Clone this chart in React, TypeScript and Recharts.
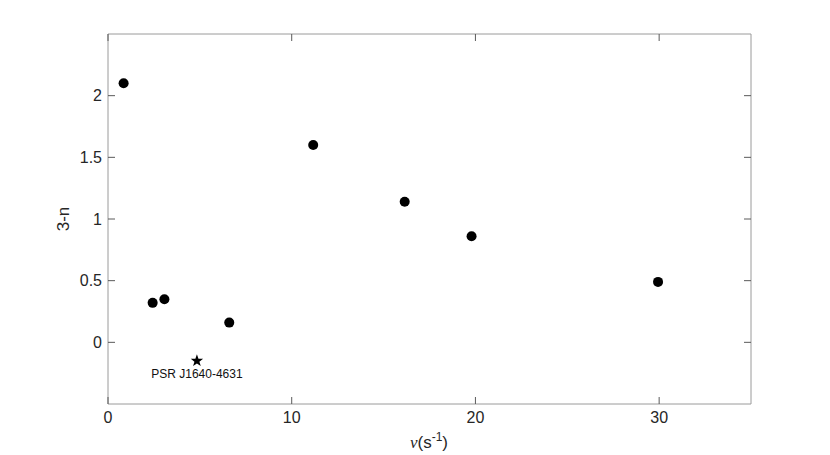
import React from "react";
import {
  ScatterChart,
  Scatter,
  XAxis,
  YAxis,
  ZAxis,
} from "recharts";

// frequency nu (s^-1) and 3-n for the pulsars
const nu = [0.85, 2.43, 3.07, 6.6, 11.17, 16.15, 19.79, 29.94];
const threeMinusN = [2.1, 0.32, 0.35, 0.16, 1.6, 1.14, 0.86, 0.49];

// highlighted pulsar
const starNu = [4.84];
const starValue = [-0.15];
const starName = "PSR J1640-4631";

const xTicks = [0, 10, 20, 30];
const yTicks = [0, 0.5, 1, 1.5, 2];

const points = nu.map((x, i) => ({ x, y: threeMinusN[i] }));
const starPoints = starNu.map((x, i) => ({ x, y: starValue[i], name: starName }));

const FONT = "'Liberation Sans', Arial, Helvetica, sans-serif";
const FRAME = "#9a9a9a";
const TICK = "#5a5a5a";
const TEXT = "#262626";
const TICK_LEN = 7;

const BottomTick = (props: any) => {
  const { x, y, payload } = props;
  return (
    <g>
      <line x1={x} x2={x} y1={y} y2={y - TICK_LEN} stroke={TICK} />
      <text x={x} y={y + 19} textAnchor="middle" fontSize={16} fill={TEXT} fontFamily={FONT}>
        {payload.value}
      </text>
    </g>
  );
};

const TopTick = (props: any) => {
  const { x, y } = props;
  return <line x1={x} x2={x} y1={y} y2={y + TICK_LEN} stroke={TICK} />;
};

const LeftTick = (props: any) => {
  const { x, y, payload } = props;
  return (
    <g>
      <line x1={x} x2={x + TICK_LEN} y1={y} y2={y} stroke={TICK} />
      <text x={x - 6} y={y} dy="0.36em" textAnchor="end" fontSize={16} fill={TEXT} fontFamily={FONT}>
        {payload.value}
      </text>
    </g>
  );
};

const RightTick = (props: any) => {
  const { x, y } = props;
  return <line x1={x} x2={x - TICK_LEN} y1={y} y2={y} stroke={TICK} />;
};

const Dot = (props: any) => {
  const { cx, cy } = props;
  return <circle cx={cx} cy={cy} r={5} fill="#000" />;
};

const Star = (props: any) => {
  const { cx, cy, payload } = props;
  const pts: string[] = [];
  for (let i = 0; i < 10; i++) {
    const r = i % 2 === 0 ? 6.5 : 2.6;
    const a = -Math.PI / 2 + (i * Math.PI) / 5;
    pts.push(`${cx + r * Math.cos(a)},${cy + r * Math.sin(a)}`);
  }
  return (
    <g>
      <polygon points={pts.join(" ")} fill="#000" />
      <text x={cx} y={cy + 17} textAnchor="middle" fontSize={12} fill="#111" fontFamily={FONT}>
        {payload.name}
      </text>
    </g>
  );
};

const App = () => {
  return (
    <div style={{ position: "absolute", left: 0, top: 0, width: 830, height: 455, background: "#fff" }}>
      <ScatterChart
        width={830}
        height={455}
        margin={{ top: 33, right: 78, bottom: 21, left: 48 }}
      >
        <XAxis
          dataKey="x"
          type="number"
          domain={[0, 35]}
          ticks={xTicks}
          allowDataOverflow
          height={30}
          tickSize={0}
          tickMargin={0}
          tickLine={false}
          axisLine={{ stroke: FRAME }}
          tick={<BottomTick />}
        />
        <XAxis
          xAxisId="top"
          dataKey="x"
          orientation="top"
          type="number"
          domain={[0, 35]}
          ticks={xTicks}
          allowDataOverflow
          height={1}
          tickSize={0}
          tickMargin={0}
          tickLine={false}
          axisLine={{ stroke: FRAME }}
          tick={<TopTick />}
        />
        <YAxis
          dataKey="y"
          type="number"
          domain={[-0.5, 2.5]}
          ticks={yTicks}
          allowDataOverflow
          width={60}
          tickSize={0}
          tickMargin={0}
          tickLine={false}
          axisLine={{ stroke: FRAME }}
          tick={<LeftTick />}
        />
        <YAxis
          yAxisId="right"
          dataKey="y"
          orientation="right"
          type="number"
          domain={[-0.5, 2.5]}
          ticks={yTicks}
          allowDataOverflow
          width={1}
          tickSize={0}
          tickMargin={0}
          tickLine={false}
          axisLine={{ stroke: FRAME }}
          tick={<RightTick />}
        />
        <ZAxis range={[80, 80]} />
        <Scatter data={points} shape={<Dot />} isAnimationActive={false} />
        <Scatter data={starPoints} shape={<Star />} isAnimationActive={false} />
        <text
          x={63}
          y={219}
          transform="rotate(-90 63 219)"
          textAnchor="middle"
          dy="0.36em"
          fontSize={17}
          fill={TEXT}
          fontFamily={FONT}
        >
          3-n
        </text>
        <text x={429} y={448} textAnchor="middle" fontSize={17} fill={TEXT} fontFamily={FONT}>
          <tspan fontFamily="'Liberation Serif', 'DejaVu Serif', serif" fontStyle="italic">
            ν
          </tspan>
          <tspan>(s</tspan>
          <tspan dy={-7} fontSize={12}>
            -1
          </tspan>
          <tspan dy={7}>)</tspan>
        </text>
      </ScatterChart>
    </div>
  );
};

export default App;
